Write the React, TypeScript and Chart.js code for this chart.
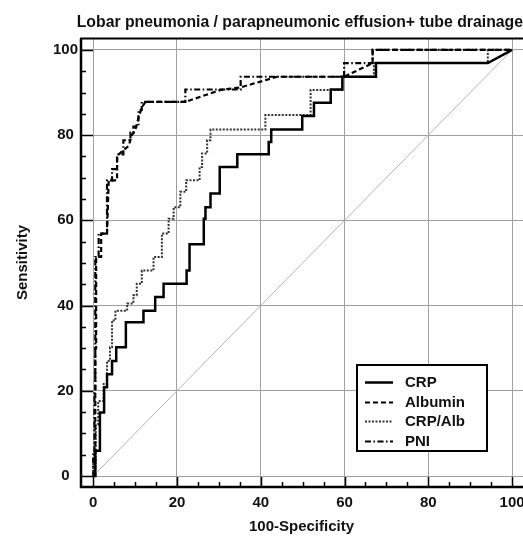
import React, { useEffect, useRef } from 'react';
import { Chart, registerables } from 'chart.js';

Chart.register(...registerables);

const TITLE = 'Lobar pneumonia / parapneumonic effusion+ tube drainage';
const X_TITLE = '100-Specificity';
const Y_TITLE = 'Sensitivity';
const TICK_VALUES = [0, 5, 10, 15, 20, 25, 30, 35, 40, 45, 50, 55, 60, 65, 70, 75, 80, 85, 90, 95, 100];
const LABEL_STEP = 20;

const SERIES_NAMES = ['CRP', 'Albumin', 'CRP/Alb', 'PNI'];

const CRP: [number, number][] = [
  [0, 0], [0.5, 0], [0.5, 5.9], [1.6, 5.9], [1.6, 14.9], [2.6, 14.9], [2.6, 20.8], [3.3, 20.8],
  [3.3, 23.9], [4.5, 23.9], [4.5, 27], [5.5, 27], [5.5, 30.2], [7.8, 30.2], [7.8, 36.1], [12, 36.1],
  [12, 38.8], [14.8, 38.8], [14.8, 42], [16.8, 42], [16.8, 45.1], [22.3, 45.1], [22.3, 48.2], [23, 48.2],
  [23, 54.4], [26.4, 54.4], [26.4, 60.4], [26.8, 60.4], [26.8, 63.1], [28, 63.1], [28, 66.3], [30.2, 66.3],
  [30.2, 72.5], [34.4, 72.5], [34.4, 75.5], [41.9, 75.5], [41.9, 78.4], [42.5, 78.4], [42.5, 81.3],
  [49.9, 81.3], [49.9, 84.5], [52.7, 84.5], [52.7, 87.6], [56.7, 87.6], [56.7, 90.7], [59.5, 90.7],
  [59.5, 93.7], [67.5, 93.7], [67.5, 96.9], [94.2, 96.9], [100, 100],
];

const ALBUMIN: [number, number][] = [
  [0, 0], [0.5, 0], [0.5, 30], [0.7, 30], [0.7, 51.4], [1.9, 51.4], [1.9, 56.9], [3.3, 56.9],
  [3.7, 69.4], [5.7, 69.4], [5.7, 75], [6.1, 75.5], [8.5, 77.5], [9.2, 80], [10, 81], [10.8, 84],
  [11.6, 86.5], [12.5, 87.8], [22, 87.8], [30.4, 90.6], [35.2, 91.2], [43.9, 93.7], [59.9, 93.7],
  [66.7, 96.9], [66.7, 100], [100, 100],
];

const CRP_ALB: [number, number][] = [
  [0, 0], [0, 3], [0.6, 3], [0.6, 12], [1.2, 12], [1.2, 17.6], [2.5, 17.6], [2.5, 21.6], [3.3, 21.6],
  [3.3, 27], [4, 27], [4, 30.2], [4.5, 30.2], [4.5, 36.5], [5.3, 36.5], [5.3, 38.8], [8.1, 38.8],
  [8.1, 40.5], [9.6, 40.5], [9.6, 42.4], [10.4, 42.4], [10.4, 45.1], [11.6, 45.1], [11.6, 48.2],
  [14.4, 48.2], [14.4, 51.4], [16.4, 51.4], [16.4, 56.9], [18, 56.9], [18, 60.4], [19.2, 60.4],
  [19.2, 63.1], [20.8, 63.1], [20.8, 66.7], [22.2, 66.7], [22.2, 69.4], [25.4, 69.4], [25.4, 72.5],
  [26, 72.5], [26, 75.7], [27.2, 75.7], [27.2, 78.8], [28, 78.8], [28, 81.3], [41.1, 81.3], [41.1, 84.7],
  [51.9, 84.7], [51.9, 90.6], [59.4, 90.6], [59.4, 93.7], [67, 93.7], [67, 96.9], [94.2, 96.9],
  [94.2, 100], [100, 100],
];

const PNI: [number, number][] = [
  [0, 0], [0, 5], [0.3, 5], [0.3, 20], [0.5, 20], [0.5, 51.4], [1.3, 51.4], [1.3, 56.9], [3.3, 56.9],
  [3.3, 69.4], [4.5, 69.4], [4.5, 72], [5.7, 72], [5.7, 75.5], [7.2, 75.5], [7.2, 78.8], [8.9, 78.8],
  [8.9, 80.6], [9.6, 80.6], [9.6, 82], [10.8, 82], [10.8, 85.9], [11.6, 85.9], [11.6, 87.8], [22, 87.8],
  [22, 90.7], [35.2, 90.7], [35.2, 93.7], [59.9, 93.7], [59.9, 96.9], [66.7, 96.9], [66.7, 100], [100, 100],
];

const CHANCE: [number, number][] = [[0, 0], [100, 100]];

const FONT_FAMILY = '"Liberation Sans", Arial, Helvetica, sans-serif';

const toPts = (arr: [number, number][]) => arr.map(([x, y]) => ({ x, y }));

const framePlugin = {
  id: 'frameTicks',
  afterDraw(chart: any) {
    const { ctx, chartArea } = chart;
    const xs = chart.scales.x;
    const ys = chart.scales.y;
    ctx.save();
    ctx.strokeStyle = '#000';
    ctx.lineWidth = 1.5;
    TICK_VALUES.forEach((v) => {
      const major = v % LABEL_STEP === 0;
      const px = Math.round(xs.getPixelForValue(v)) + 0.5;
      ctx.beginPath();
      ctx.moveTo(px, chartArea.bottom);
      ctx.lineTo(px, chartArea.bottom - (major ? 10 : 5));
      ctx.stroke();
      const py = Math.round(ys.getPixelForValue(v)) + 0.5;
      ctx.beginPath();
      ctx.moveTo(chartArea.left, py);
      ctx.lineTo(chartArea.left + (major ? 13 : 6), py);
      ctx.stroke();
    });
    ctx.lineWidth = 2.5;
    ctx.beginPath();
    ctx.moveTo(chartArea.left + 1, chartArea.top + 0.5);
    ctx.lineTo(chartArea.left + 1, chartArea.bottom);
    ctx.lineTo(chartArea.right, chartArea.bottom);
    ctx.stroke();
    ctx.lineWidth = 2;
    ctx.beginPath();
    ctx.moveTo(chartArea.left, chartArea.top + 0.5);
    ctx.lineTo(chartArea.right, chartArea.top + 0.5);
    ctx.stroke();

    const bx = 357, by = 365, bw = 130, bh = 86;
    ctx.fillStyle = '#fff';
    ctx.fillRect(bx, by, bw, bh);
    ctx.lineWidth = 2;
    ctx.strokeStyle = '#000';
    ctx.strokeRect(bx, by, bw, bh);
    ctx.font = `bold 15px ${FONT_FAMILY}`;
    ctx.textBaseline = 'middle';
    ctx.textAlign = 'left';
    const rows = chart.data.datasets.filter((d: any) => SERIES_NAMES.includes(d.label));
    rows.forEach((d: any, i: number) => {
      const cy = Math.round(by + 17 + i * 19.5) + 0.5;
      ctx.save();
      ctx.strokeStyle = d.borderColor;
      ctx.lineWidth = d.borderWidth;
      ctx.setLineDash(d.borderDash || []);
      ctx.beginPath();
      ctx.moveTo(bx + 8, cy);
      ctx.lineTo(bx + 36, cy);
      ctx.stroke();
      ctx.restore();
      ctx.fillStyle = '#111';
      ctx.fillText(d.label, bx + 48, cy);
    });
    ctx.restore();
  },
};

export default function App() {
  const ref = useRef<HTMLCanvasElement | null>(null);
  useEffect(() => {
    if (!ref.current) return;
    const tickFont = { family: FONT_FAMILY, size: 15, weight: 'bold' as const };
    const chart = new Chart(ref.current, {
      type: 'line',
      data: {
        datasets: [
          { label: SERIES_NAMES[0], data: toPts(CRP), borderColor: '#000', borderWidth: 2.5, borderDash: [], pointRadius: 0, fill: false, tension: 0 },
          { label: SERIES_NAMES[1], data: toPts(ALBUMIN), borderColor: '#000', borderWidth: 2.2, borderDash: [5, 3], pointRadius: 0, fill: false, tension: 0 },
          { label: SERIES_NAMES[2], data: toPts(CRP_ALB), borderColor: '#333', borderWidth: 2, borderDash: [2, 1.5], pointRadius: 0, fill: false, tension: 0 },
          { label: SERIES_NAMES[3], data: toPts(PNI), borderColor: '#000', borderWidth: 2.2, borderDash: [6, 2.5, 1.5, 2.5], pointRadius: 0, fill: false, tension: 0 },
          { label: 'chance', data: toPts(CHANCE), borderColor: '#b4b4b4', borderWidth: 1, pointRadius: 0, fill: false, tension: 0 },
        ],
      },
      options: {
        responsive: false,
        animation: false,
        events: [],
        layout: { padding: { left: 0, right: 0, top: 0, bottom: 0 } },
        plugins: {
          legend: { display: false },
          tooltip: { enabled: false },
          title: {
            display: true,
            text: TITLE,
            align: 'end',
            color: '#111',
            font: { family: FONT_FAMILY, size: 15.8, weight: 'bold' },
            padding: { top: 13, bottom: 6 },
          },
        },
        scales: {
          x: {
            type: 'linear',
            min: -3.15,
            max: 102.6,
            afterBuildTicks: (s: any) => { s.ticks = TICK_VALUES.map((v) => ({ value: v })); },
            afterFit: (s: any) => { s.height = 49; s.paddingLeft = 0; s.paddingRight = 0; },
            ticks: {
              autoSkip: false,
              maxRotation: 0,
              padding: 7,
              color: '#111',
              font: tickFont,
              callback: (v: any) => (Number(v) % LABEL_STEP === 0 ? String(v) : ''),
            },
            grid: {
              drawTicks: false,
              lineWidth: 1,
              color: (c: any) => (c.tick && c.tick.value % LABEL_STEP === 0 ? '#a0a0a0' : 'rgba(0,0,0,0)'),
            },
            border: { display: false },
            title: { display: true, text: X_TITLE, color: '#111', font: tickFont, padding: { top: 0, bottom: 0 } },
          },
          y: {
            type: 'linear',
            min: -2.58,
            max: 102.8,
            afterBuildTicks: (s: any) => { s.ticks = TICK_VALUES.map((v) => ({ value: v })); },
            afterFit: (s: any) => { s.width = 80; s.paddingTop = 0; s.paddingBottom = 0; },
            ticks: {
              autoSkip: false,
              padding: 2,
              crossAlign: 'center',
              color: '#111',
              font: tickFont,
              callback: (v: any) => (Number(v) % LABEL_STEP === 0 ? String(v) : ''),
            },
            grid: {
              drawTicks: false,
              lineWidth: 1,
              color: (c: any) => (c.tick && c.tick.value % LABEL_STEP === 0 ? '#a0a0a0' : 'rgba(0,0,0,0)'),
            },
            border: { display: false },
            title: { display: true, text: Y_TITLE, color: '#111', font: tickFont, padding: { top: 14, bottom: 0 } },
          },
        },
      },
      plugins: [framePlugin],
    });
    return () => chart.destroy();
  }, []);
  return (
    <div style={{ position: 'fixed', left: 0, top: 0, width: 523, height: 536, background: '#fff' }}>
      <canvas ref={ref} width={523} height={536} style={{ display: 'block' }} />
    </div>
  );
}
